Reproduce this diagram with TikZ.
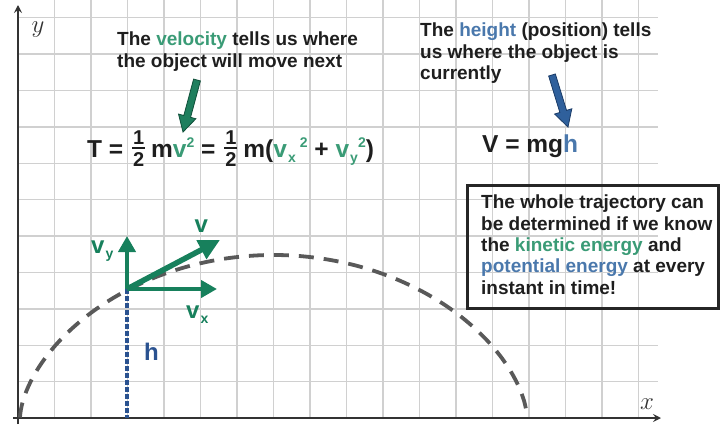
\documentclass[tikz,border=0pt]{standalone}
\usepackage{fontspec}
\setmainfont{Liberation Sans}
\usetikzlibrary{arrows.meta,calc}
\definecolor{gridc}{HTML}{D0D0D0}
\definecolor{txt}{HTML}{1E1E1E}
\definecolor{axc}{HTML}{333333}
\definecolor{velg}{HTML}{3A9B76}
\definecolor{vecg}{HTML}{17805C}
\definecolor{arrg}{HTML}{1F7F5E}
\definecolor{arrgD}{HTML}{10503A}
\definecolor{hblue}{HTML}{4A78AC}
\definecolor{arrb}{HTML}{2F609C}
\definecolor{arrbD}{HTML}{1B3C68}
\definecolor{dblue}{HTML}{2A5290}
\definecolor{trajc}{HTML}{595959}
\newcommand{\halffrac}{\hspace{2pt}\raisebox{2.5pt}{$\vcenter{\bfseries\fontsize{20}{20}\selectfont\offinterlineskip\halign{\kern1pt\hfil##\hfil\kern1pt\cr 1\cr\noalign{\kern3pt\hrule height 1.8pt\kern3pt}2\cr}}$}\hspace{6pt}}
\newcommand{\lowsub}[1]{\kern1pt\raisebox{-0.45ex}{\fontsize{14}{14}\selectfont #1}}
\newcommand{\smallsup}[1]{\raisebox{0.75ex}{\fontsize{14}{14}\selectfont #1}}
\begin{document}
\begin{tikzpicture}[x=1pt,y=-1pt,
  gridline/.style={gridc, line width=1.4pt},
  axisline/.style={axc, line width=1.8pt, -{Stealth[length=8pt,width=8pt,inset=3pt]}},
  annot/.style={font=\bfseries\fontsize{19}{21.3}\selectfont, text=txt, align=left, inner sep=0pt, anchor=north west},
  eqfont/.style={font=\bfseries\fontsize{24.5}{26}\selectfont, text=txt, inner sep=0pt, anchor=base west},
  veclbl/.style={font=\bfseries\fontsize{24}{24}\selectfont, text=vecg, inner sep=0pt, anchor=base west},
  vecline/.style={vecg, line width=4pt, -{Triangle[length=16pt,width=17pt]}},
  axlbl/.style={font=\fontsize{24}{24}\selectfont, text=axc, inner sep=0pt}
]
\useasboundingbox (0,0) rectangle (720,426);
% grid
\foreach \k in {1,...,17} \draw[gridline] ({18+36.5*\k},0) -- ({18+36.5*\k},418);
\foreach \k in {1,...,11} \draw[gridline] (18,{418-36.4*\k}) -- (658,{418-36.4*\k});
% axes
\coordinate (ybot) at (18,424);
\coordinate (ytop) at (18,5);
\coordinate (xleft) at (13,418);
\coordinate (xright) at (661,418);
\draw[axisline] (ybot) -- (ytop);
\draw[axisline] (xleft) -- (xright);
\node[axlbl] (ylab) at (38,30) {$y$};
\node[axlbl] (xlab) at (647,404) {$x$};
% trajectory
\draw[trajc, line width=3.8pt, dash pattern=on 15pt off 10pt]
  plot[domain=179.5:0.5, samples=90, smooth] ({273.5+253.5*cos(\x)}, {418-163*abs(sin(\x))^1.2});
% point and vectors
\coordinate (P) at (127,289);
\coordinate (vyT) at (127,236);
\coordinate (vxT) at (217,289);
\coordinate (vT) at (220,240);
\coordinate (hB) at (127,418);
\draw[dblue, line width=3.6pt, dash pattern=on 5pt off 2pt] (P) -- (hB);
\draw[vecline] (P) -- (vyT);
\draw[vecline] (P) -- (vxT);
\draw[vecg, line width=5.5pt, -{Triangle[length=21pt,width=20pt]}] (P) -- (vT);
\node[veclbl] (vlab) at (194.5,232) {v};
\node[veclbl] (vylab) at (91,253) {v\lowsub{y}};
\node[veclbl] (vxlab) at (186,318) {v\lowsub{x}};
\node[veclbl, text=dblue] (hlab) at (144,360) {h};
% velocity annotation
\node[annot] (veltext) at (117,32) {The \textcolor{velg}{velocity} tells us where\\the object will move next};
\coordinate (ga) at (197,80);
\coordinate (gb) at (183,132);
\coordinate (gh) at ($(ga)!0.7!(gb)$);
\filldraw[fill=arrg, draw=arrgD, line width=0.8pt]
  ($(ga)!3.5pt!90:(gb)$) -- ($(gh)!3.5pt!90:(gb)$) -- ($(gh)!9pt!90:(gb)$) -- (gb)
  -- ($(gh)!9pt!-90:(gb)$) -- ($(gh)!3.5pt!-90:(gb)$) -- ($(ga)!3.5pt!-90:(gb)$) -- cycle;
\node[eqfont] (teq) at (87,157) {T = \halffrac m\textcolor{velg}{v\smallsup{2}} = \halffrac m(\textcolor{velg}{v\lowsub{x}\,\smallsup{2}} + \textcolor{velg}{v\lowsub{y}\smallsup{2}})};
% height annotation
\node[annot] (htext) at (420,23) {The \textcolor{hblue}{height} (position) tells\\us where the object is\\currently};
\coordinate (ba) at (552,75);
\coordinate (bb) at (568,127);
\coordinate (bh) at ($(ba)!0.7!(bb)$);
\filldraw[fill=arrb, draw=arrbD, line width=0.8pt]
  ($(ba)!3.5pt!90:(bb)$) -- ($(bh)!3.5pt!90:(bb)$) -- ($(bh)!9pt!90:(bb)$) -- (bb)
  -- ($(bh)!9pt!-90:(bb)$) -- ($(bh)!3.5pt!-90:(bb)$) -- ($(ba)!3.5pt!-90:(bb)$) -- cycle;
\node[eqfont] (veq) at (482,152) {V = mg\textcolor{hblue}{h}};
% box
\coordinate (boxA) at (467,185);
\coordinate (boxB) at (718,308);
\draw[black!85, line width=3pt] (boxA) rectangle (boxB);
\node[annot] (boxtext) at (481,195) {The whole trajectory can\\be determined if we know\\the \textcolor{velg}{kinetic energy} and\\\textcolor{hblue}{potential energy} at every\\instant in time!};
\end{tikzpicture}
\end{document}
